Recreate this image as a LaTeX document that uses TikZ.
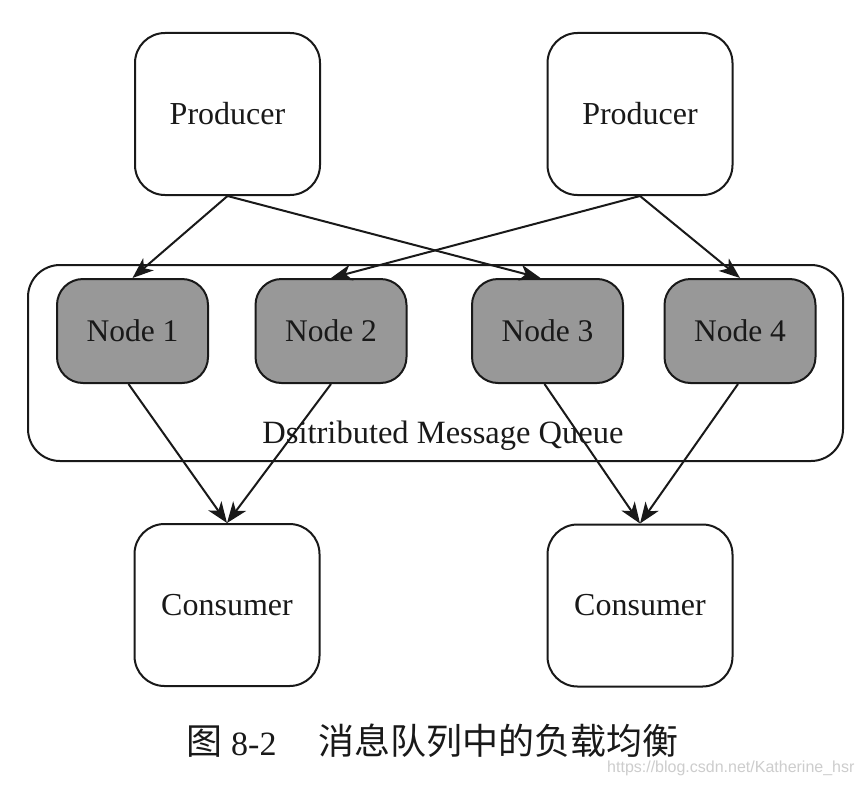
\documentclass[tikz,border=0pt]{standalone}
\usepackage{fontspec}
\setmainfont{Liberation Serif}
\newfontfamily\cjk{Noto Sans CJK SC}
\newfontfamily\wmfont{Liberation Sans}
\usetikzlibrary{arrows.meta}
\definecolor{nodegray}{RGB}{152,152,152}
\definecolor{inkc}{RGB}{25,25,25}
\definecolor{wmgray}{RGB}{205,205,205}
\tikzset{
  bigbox/.style={draw=inkc, line width=2pt, rounded corners=30pt, fill=white,
    minimum width=185pt, minimum height=162pt, inner sep=0pt,
    text=inkc, font=\fontsize{32}{38}\selectfont},
  qnode/.style={draw=inkc, line width=2pt, rounded corners=26pt, fill=nodegray,
    minimum width=151pt, minimum height=104pt, inner sep=0pt,
    text=inkc, font=\fontsize{31.5}{38}\selectfont},
  queuebox/.style={draw=inkc, line width=2pt, rounded corners=32pt},
  flow/.style={draw=inkc, line width=2pt,
    -{Stealth[length=21pt,width=16pt,inset=6pt]}},
  lbl/.style={text=inkc, inner sep=0pt, font=\fontsize{32.5}{38}\selectfont}
}
\begin{document}
\begin{tikzpicture}[x=1pt,y=-1pt]
\useasboundingbox (0,0) rectangle (866,784);
\fill[white] (0,0) rectangle (866,784);
% queue container
\draw[queuebox] (28,265) rectangle (843,461);
\node[lbl, anchor=base] (qlabel) at (443,443) {Dsitributed Message Queue};
% producers and consumers
\node[bigbox] (p1) at (227.5,114) {Producer};
\node[bigbox] (p2) at (640,114) {Producer};
\node[bigbox] (c1) at (227,605) {Consumer};
\node[bigbox] (c2) at (640,605.5) {Consumer};
% queue nodes
\node[qnode] (n1) at (132.5,331) {Node 1};
\node[qnode] (n2) at (331,331) {Node 2};
\node[qnode] (n3) at (547.5,331) {Node 3};
\node[qnode] (n4) at (740,331) {Node 4};
% connectors
\draw[flow] (p1.south) -- (n1.north);
\draw[flow] (p1.south) -- ([xshift=-7pt]n3.north);
\draw[flow] (p2.south) -- (n2.north);
\draw[flow] (p2.south) -- (n4.north);
\draw[flow] ([xshift=-4pt]n1.south) -- (c1.north);
\draw[flow] (n2.south) -- (c1.north);
\draw[flow] ([xshift=-3pt]n3.south) -- (c2.north);
\draw[flow] ([xshift=-2pt]n4.south) -- (c2.north);
% caption
\node[anchor=base west, inner sep=0pt, text=inkc, font=\fontsize{36}{40}\selectfont\cjk] (fig) at (186,754) {图};
\node[anchor=base west, inner sep=0pt, text=inkc, font=\fontsize{34}{40}\selectfont] (fignum) at (231,755) {8-2};
\node[anchor=base west, inner sep=0pt, text=inkc, font=\fontsize{36}{40}\selectfont\cjk] (figtitle) at (318,754) {消息队列中的负载均衡};
% watermark
\node[anchor=base west, inner sep=0pt, text=wmgray, font=\fontsize{16}{18}\selectfont\wmfont] (wm) at (607,772) {https://blog.csdn.net/Katherine\_hsr};
\end{tikzpicture}
\end{document}
